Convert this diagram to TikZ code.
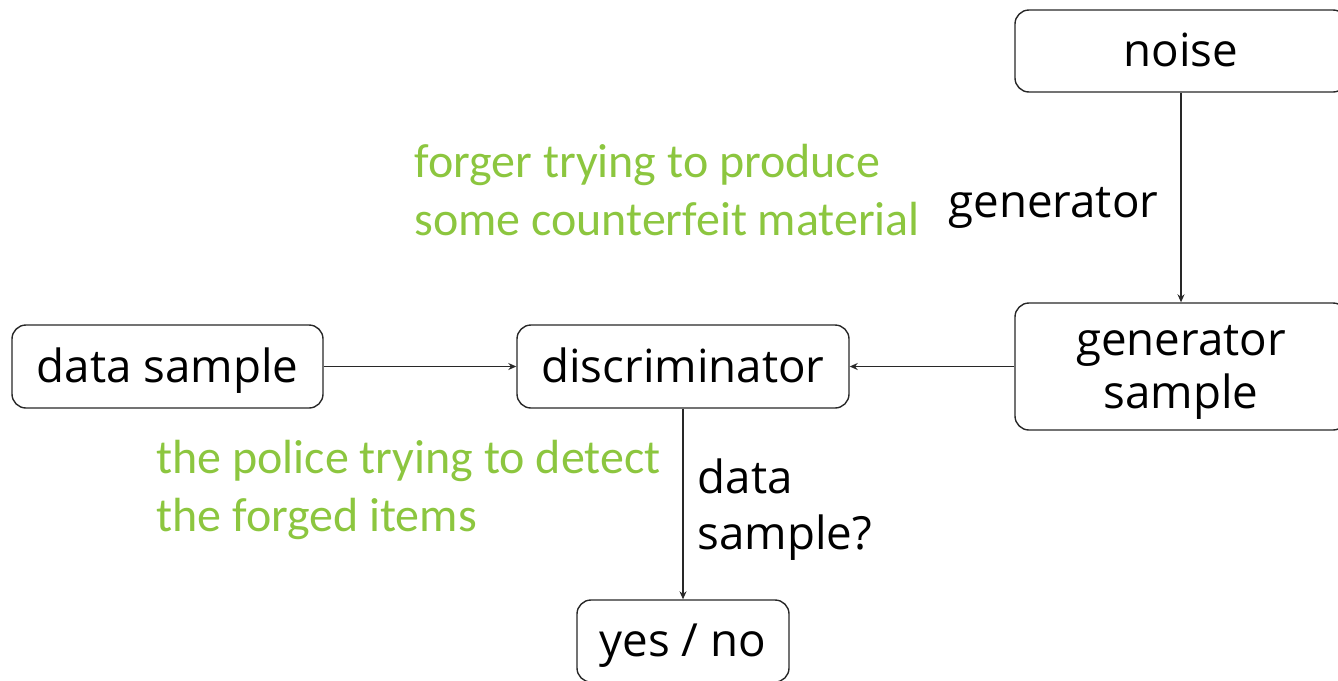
\documentclass[tikz,border=0pt]{standalone}
\usepackage{fontspec}
\setmainfont{Open Sans}
\newfontfamily\notefont{Carlito}
\usetikzlibrary{arrows.meta}
\definecolor{notegreen}{RGB}{140,198,63}
\definecolor{edgegray}{RGB}{40,40,40}
\def\px{0.02cm}
\tikzset{
  blockbox/.style={draw=edgegray, line width=1.4*\px, rounded corners=14*\px,
    inner sep=0pt, align=center, font=\fontsize{26}{30}\selectfont,
    text height=34*\px, text depth=3*\px},
  flow/.style={draw=edgegray, line width=1.3*\px,
    -{Stealth[length=8*\px, width=7*\px]}},
  note/.style={inner sep=0pt, align=left, text=notegreen,
    font=\notefont\fontsize{27.3}{33}\selectfont},
  label/.style={inner sep=0pt, align=left, font=\fontsize{26}{32}\selectfont}
}
\begin{document}
\begin{tikzpicture}[x=\px, y=-\px]
  \useasboundingbox (0,0) rectangle (1338,680);
  \clip (0,0) rectangle (1338,680);

  % boxes (two-line box: its baseline is the last line, so the height covers both lines)
  \node[blockbox, minimum width={332*\px}, minimum height={82*\px}] (noise) at (1181,51) {noise};
  \node[blockbox, minimum width={332*\px}, minimum height={127*\px},
        text height=87*\px, text depth=4*\px] (gen) at (1181,366.5) {generator\\sample};
  \node[blockbox, minimum width={311*\px}, minimum height={83*\px}] (data) at (167.5,366.5) {data sample};
  \node[blockbox, minimum width={332*\px}, minimum height={83*\px}] (disc) at (683,366.5) {discriminator};
  \node[blockbox, minimum width={212*\px}, minimum height={82*\px}] (yn) at (683,641) {yes / no};

  % connectors
  \draw[flow] (noise) -- (gen)
    node[midway, label, anchor=east, xshift={-22*\px}, yshift={-10*\px}] (genlbl) {generator};
  \draw[flow] (data) -- (disc);
  \draw[flow] (gen.west) -- (disc.east);
  \draw[flow] (disc) -- (yn)
    node[midway, label, anchor=west, xshift={14*\px}, yshift={-6*\px}] (asklbl) {data\\sample?};

  % annotations
  \node[note, anchor=west] (forger) at (414,190) {forger trying to produce\\some counterfeit material};
  \node[note, anchor=west] (police) at (156,490) {the police trying to detect\\the forged items};
\end{tikzpicture}
\end{document}
